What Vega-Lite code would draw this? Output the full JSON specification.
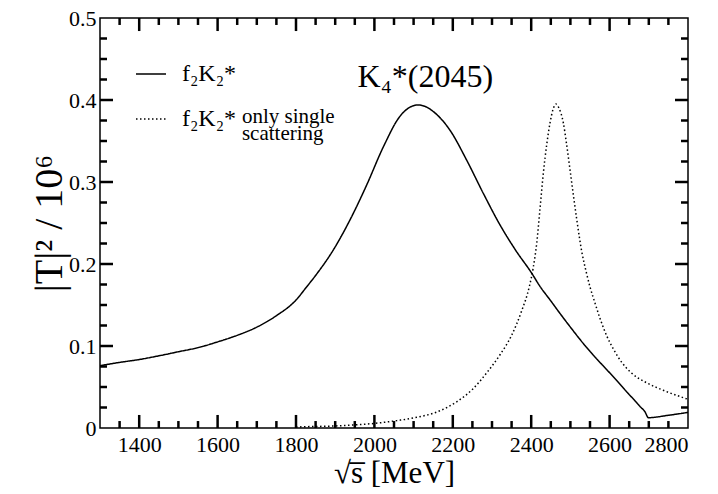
{
  "$schema": "https://vega.github.io/schema/vega-lite/v6.json",
  "width": 588,
  "height": 410,
  "autosize": {"type": "none"},
  "padding": {"left": 100, "top": 18, "right": 30, "bottom": 66},
  "background": "white",
  "config": {
    "view": {"stroke": "black", "strokeWidth": 1.5},
    "font": "'Liberation Serif', 'Times New Roman', 'DejaVu Serif', serif",
    "axis": {
      "domain": false,
      "ticks": false,
      "grid": false,
      "labelFont": "'Liberation Serif', 'Times New Roman', 'DejaVu Serif', serif",
      "labelFontSize": 22,
      "labelColor": "black",
      "titleFont": "'Liberation Serif', 'Times New Roman', 'DejaVu Serif', serif",
      "titleFontWeight": "normal",
      "titleColor": "black"
    }
  },
  "datasets": {
    "full": [
      {"sqrt_s": 1300, "T2": 0.076, "series": "full"},
      {"sqrt_s": 1350, "T2": 0.080, "series": "full"},
      {"sqrt_s": 1400, "T2": 0.0835, "series": "full"},
      {"sqrt_s": 1450, "T2": 0.088, "series": "full"},
      {"sqrt_s": 1500, "T2": 0.093, "series": "full"},
      {"sqrt_s": 1550, "T2": 0.098, "series": "full"},
      {"sqrt_s": 1600, "T2": 0.105, "series": "full"},
      {"sqrt_s": 1650, "T2": 0.113, "series": "full"},
      {"sqrt_s": 1700, "T2": 0.123, "series": "full"},
      {"sqrt_s": 1750, "T2": 0.137, "series": "full"},
      {"sqrt_s": 1800, "T2": 0.156, "series": "full"},
      {"sqrt_s": 1827, "T2": 0.172, "series": "full"},
      {"sqrt_s": 1850, "T2": 0.186, "series": "full"},
      {"sqrt_s": 1895, "T2": 0.217, "series": "full"},
      {"sqrt_s": 1938, "T2": 0.254, "series": "full"},
      {"sqrt_s": 1980, "T2": 0.296, "series": "full"},
      {"sqrt_s": 2023, "T2": 0.343, "series": "full"},
      {"sqrt_s": 2065, "T2": 0.380, "series": "full"},
      {"sqrt_s": 2090, "T2": 0.391, "series": "full"},
      {"sqrt_s": 2112, "T2": 0.394, "series": "full"},
      {"sqrt_s": 2130, "T2": 0.392, "series": "full"},
      {"sqrt_s": 2150, "T2": 0.386, "series": "full"},
      {"sqrt_s": 2193, "T2": 0.363, "series": "full"},
      {"sqrt_s": 2235, "T2": 0.327, "series": "full"},
      {"sqrt_s": 2278, "T2": 0.286, "series": "full"},
      {"sqrt_s": 2320, "T2": 0.248, "series": "full"},
      {"sqrt_s": 2360, "T2": 0.217, "series": "full"},
      {"sqrt_s": 2401, "T2": 0.189, "series": "full"},
      {"sqrt_s": 2422, "T2": 0.173, "series": "full"},
      {"sqrt_s": 2450, "T2": 0.155, "series": "full"},
      {"sqrt_s": 2473, "T2": 0.140, "series": "full"},
      {"sqrt_s": 2500, "T2": 0.123, "series": "full"},
      {"sqrt_s": 2533, "T2": 0.103, "series": "full"},
      {"sqrt_s": 2560, "T2": 0.088, "series": "full"},
      {"sqrt_s": 2593, "T2": 0.071, "series": "full"},
      {"sqrt_s": 2620, "T2": 0.057, "series": "full"},
      {"sqrt_s": 2644, "T2": 0.044, "series": "full"},
      {"sqrt_s": 2665, "T2": 0.033, "series": "full"},
      {"sqrt_s": 2678, "T2": 0.026, "series": "full"},
      {"sqrt_s": 2690, "T2": 0.020, "series": "full"},
      {"sqrt_s": 2699, "T2": 0.0126, "series": "full"},
      {"sqrt_s": 2750, "T2": 0.0155, "series": "full"},
      {"sqrt_s": 2800, "T2": 0.019, "series": "full"}
    ],
    "single": [
      {"sqrt_s": 1800, "T2": 0.0012, "series": "single"},
      {"sqrt_s": 1827, "T2": 0.0016, "series": "single"},
      {"sqrt_s": 1895, "T2": 0.0024, "series": "single"},
      {"sqrt_s": 1946, "T2": 0.0037, "series": "single"},
      {"sqrt_s": 2002, "T2": 0.0057, "series": "single"},
      {"sqrt_s": 2057, "T2": 0.009, "series": "single"},
      {"sqrt_s": 2108, "T2": 0.013, "series": "single"},
      {"sqrt_s": 2159, "T2": 0.0195, "series": "single"},
      {"sqrt_s": 2210, "T2": 0.0320, "series": "single"},
      {"sqrt_s": 2252, "T2": 0.048, "series": "single"},
      {"sqrt_s": 2286, "T2": 0.067, "series": "single"},
      {"sqrt_s": 2320, "T2": 0.089, "series": "single"},
      {"sqrt_s": 2350, "T2": 0.113, "series": "single"},
      {"sqrt_s": 2375, "T2": 0.142, "series": "single"},
      {"sqrt_s": 2395, "T2": 0.172, "series": "single"},
      {"sqrt_s": 2405, "T2": 0.195, "series": "single"},
      {"sqrt_s": 2414, "T2": 0.225, "series": "single"},
      {"sqrt_s": 2422, "T2": 0.265, "series": "single"},
      {"sqrt_s": 2431, "T2": 0.311, "series": "single"},
      {"sqrt_s": 2440, "T2": 0.347, "series": "single"},
      {"sqrt_s": 2448, "T2": 0.372, "series": "single"},
      {"sqrt_s": 2456, "T2": 0.389, "series": "single"},
      {"sqrt_s": 2463, "T2": 0.395, "series": "single"},
      {"sqrt_s": 2471, "T2": 0.390, "series": "single"},
      {"sqrt_s": 2482, "T2": 0.372, "series": "single"},
      {"sqrt_s": 2490, "T2": 0.347, "series": "single"},
      {"sqrt_s": 2499, "T2": 0.315, "series": "single"},
      {"sqrt_s": 2507, "T2": 0.286, "series": "single"},
      {"sqrt_s": 2516, "T2": 0.255, "series": "single"},
      {"sqrt_s": 2529, "T2": 0.215, "series": "single"},
      {"sqrt_s": 2541, "T2": 0.189, "series": "single"},
      {"sqrt_s": 2550, "T2": 0.172, "series": "single"},
      {"sqrt_s": 2563, "T2": 0.152, "series": "single"},
      {"sqrt_s": 2576, "T2": 0.133, "series": "single"},
      {"sqrt_s": 2593, "T2": 0.112, "series": "single"},
      {"sqrt_s": 2610, "T2": 0.096, "series": "single"},
      {"sqrt_s": 2631, "T2": 0.080, "series": "single"},
      {"sqrt_s": 2656, "T2": 0.067, "series": "single"},
      {"sqrt_s": 2695, "T2": 0.055, "series": "single"},
      {"sqrt_s": 2737, "T2": 0.046, "series": "single"},
      {"sqrt_s": 2800, "T2": 0.035, "series": "single"}
    ],
    "resonance": [
      {"sqrt_s": 2130, "T2": 0.416, "label": "K₄*(2045)"}
    ],
    "notes": [
      {"sqrt_s": 1662, "T2": 0.372, "label": "only single"},
      {"sqrt_s": 1662, "T2": 0.351, "label": "scattering"}
    ],
    "xmajor": [
      {"v": 1400}, {"v": 1600}, {"v": 1800}, {"v": 2000}, {"v": 2200}, {"v": 2400}, {"v": 2600}
    ],
    "xminor": [
      {"v": 1350}, {"v": 1450}, {"v": 1500}, {"v": 1550}, {"v": 1650}, {"v": 1700}, {"v": 1750},
      {"v": 1850}, {"v": 1900}, {"v": 1950}, {"v": 2050}, {"v": 2100}, {"v": 2150}, {"v": 2250},
      {"v": 2300}, {"v": 2350}, {"v": 2450}, {"v": 2500}, {"v": 2550}, {"v": 2650}, {"v": 2700},
      {"v": 2750}
    ],
    "ymajor": [
      {"v": 0.1}, {"v": 0.2}, {"v": 0.3}, {"v": 0.4}
    ],
    "yminor": [
      {"v": 0.025}, {"v": 0.05}, {"v": 0.075}, {"v": 0.125}, {"v": 0.15}, {"v": 0.175},
      {"v": 0.225}, {"v": 0.25}, {"v": 0.275}, {"v": 0.325}, {"v": 0.35}, {"v": 0.375},
      {"v": 0.425}, {"v": 0.45}, {"v": 0.475}
    ]
  },
  "layer": [
    {
      "data": {"name": "xmajor"},
      "mark": {"type": "rule", "color": "black", "strokeWidth": 2.5},
      "encoding": {
        "x": {
          "field": "v", "type": "quantitative",
          "scale": {"domain": [1300, 2800], "nice": false, "zero": false},
          "axis": {
            "orient": "bottom",
            "values": [1400, 1600, 1800, 2000, 2200, 2400, 2600, 2800],
            "format": "d",
            "labelPadding": 6,
            "title": "√s̅  [MeV]",
            "titleFontSize": 31,
            "titleY": 54,
            "titleBaseline": "alphabetic"
          }
        },
        "y": {
          "datum": 0, "type": "quantitative",
          "scale": {"domain": [0, 0.5], "nice": false, "zero": false},
          "axis": {
            "orient": "left",
            "values": [0, 0.1, 0.2, 0.3, 0.4, 0.5],
            "format": "~g",
            "labelPadding": 4,
            "title": "|T|² / 10⁶",
            "titleFontSize": 40,
            "titleX": -39,
            "titleBaseline": "alphabetic"
          }
        },
        "y2": {"datum": 0.0159}
      }
    },
    {
      "data": {"name": "xminor"},
      "mark": {"type": "rule", "color": "black", "strokeWidth": 2.5},
      "encoding": {
        "x": {"field": "v", "type": "quantitative", "axis": null},
        "y": {"datum": 0, "type": "quantitative", "axis": null},
        "y2": {"datum": 0.0085}
      }
    },
    {
      "data": {"name": "xmajor"},
      "mark": {"type": "rule", "color": "black", "strokeWidth": 2.5},
      "encoding": {
        "x": {"field": "v", "type": "quantitative", "axis": null},
        "y": {"datum": 0.5, "type": "quantitative", "axis": null},
        "y2": {"datum": 0.4841}
      }
    },
    {
      "data": {"name": "xminor"},
      "mark": {"type": "rule", "color": "black", "strokeWidth": 2.5},
      "encoding": {
        "x": {"field": "v", "type": "quantitative", "axis": null},
        "y": {"datum": 0.5, "type": "quantitative", "axis": null},
        "y2": {"datum": 0.4915}
      }
    },
    {
      "data": {"name": "ymajor"},
      "mark": {"type": "rule", "color": "black", "strokeWidth": 2.5},
      "encoding": {
        "y": {"field": "v", "type": "quantitative", "axis": null},
        "x": {"datum": 1300, "type": "quantitative", "axis": null},
        "x2": {"datum": 1333.2}
      }
    },
    {
      "data": {"name": "yminor"},
      "mark": {"type": "rule", "color": "black", "strokeWidth": 2.5},
      "encoding": {
        "y": {"field": "v", "type": "quantitative", "axis": null},
        "x": {"datum": 1300, "type": "quantitative", "axis": null},
        "x2": {"datum": 1317.9}
      }
    },
    {
      "data": {"name": "ymajor"},
      "mark": {"type": "rule", "color": "black", "strokeWidth": 2.5},
      "encoding": {
        "y": {"field": "v", "type": "quantitative", "axis": null},
        "x": {"datum": 2800, "type": "quantitative", "axis": null},
        "x2": {"datum": 2766.8}
      }
    },
    {
      "data": {"name": "yminor"},
      "mark": {"type": "rule", "color": "black", "strokeWidth": 2.5},
      "encoding": {
        "y": {"field": "v", "type": "quantitative", "axis": null},
        "x": {"datum": 2800, "type": "quantitative", "axis": null},
        "x2": {"datum": 2782.1}
      }
    },
    {
      "data": {"name": "full"},
      "mark": {"type": "line", "strokeWidth": 1.5, "color": "black", "clip": true, "interpolate": "monotone"},
      "encoding": {
        "x": {"field": "sqrt_s", "type": "quantitative", "axis": null},
        "y": {"field": "T2", "type": "quantitative", "axis": null},
        "strokeDash": {
          "field": "series", "type": "nominal",
          "scale": {"domain": ["full", "single"], "range": [[1, 0], [1.5, 2.5]]},
          "legend": {
            "orient": "none",
            "legendX": 35,
            "legendY": 40,
            "title": null,
            "padding": 0,
            "labelExpr": "'f₂K₂*'",
            "labelFont": "'Liberation Serif', 'Times New Roman', 'DejaVu Serif', serif",
            "labelFontSize": 24,
            "labelColor": "black",
            "labelOffset": 15,
            "symbolType": "stroke",
            "symbolSize": 900,
            "symbolStrokeWidth": 1.5,
            "symbolStrokeColor": "black",
            "rowPadding": 17
          }
        }
      }
    },
    {
      "data": {"name": "single"},
      "mark": {"type": "line", "strokeWidth": 1.5, "color": "black", "clip": true, "interpolate": "monotone"},
      "encoding": {
        "x": {"field": "sqrt_s", "type": "quantitative", "axis": null},
        "y": {"field": "T2", "type": "quantitative", "axis": null},
        "strokeDash": {
          "field": "series", "type": "nominal",
          "scale": {"domain": ["full", "single"], "range": [[1, 0], [1.5, 2.5]]},
          "legend": {
            "orient": "none",
            "legendX": 35,
            "legendY": 40,
            "title": null,
            "padding": 0,
            "labelExpr": "'f₂K₂*'",
            "labelFont": "'Liberation Serif', 'Times New Roman', 'DejaVu Serif', serif",
            "labelFontSize": 24,
            "labelColor": "black",
            "labelOffset": 15,
            "symbolType": "stroke",
            "symbolSize": 900,
            "symbolStrokeWidth": 1.5,
            "symbolStrokeColor": "black",
            "rowPadding": 17
          }
        }
      }
    },
    {
      "data": {"name": "resonance"},
      "mark": {"type": "text", "font": "'Liberation Serif', 'Times New Roman', 'DejaVu Serif', serif", "fontSize": 32, "color": "black", "align": "center", "baseline": "alphabetic"},
      "encoding": {
        "x": {"field": "sqrt_s", "type": "quantitative", "axis": null},
        "y": {"field": "T2", "type": "quantitative", "axis": null},
        "text": {"field": "label", "type": "nominal"}
      }
    },
    {
      "data": {"name": "notes"},
      "mark": {"type": "text", "font": "'Liberation Serif', 'Times New Roman', 'DejaVu Serif', serif", "fontSize": 21, "color": "black", "align": "left", "baseline": "alphabetic"},
      "encoding": {
        "x": {"field": "sqrt_s", "type": "quantitative", "axis": null},
        "y": {"field": "T2", "type": "quantitative", "axis": null},
        "text": {"field": "label", "type": "nominal"}
      }
    }
  ],
  "resolve": {"axis": {"x": "independent", "y": "independent"}}
}
